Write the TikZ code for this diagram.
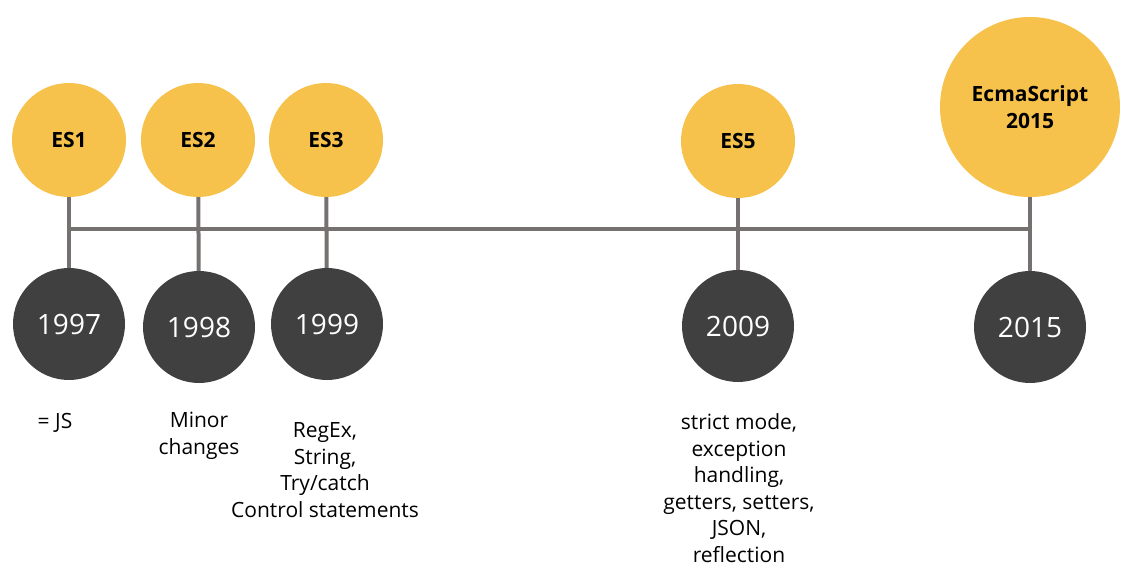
\documentclass[tikz,border=0pt]{standalone}
\usepackage{fontspec}
\setmainfont{Open Sans}
\usetikzlibrary{backgrounds}
\definecolor{esyellow}{HTML}{F6C24B}
\definecolor{yeardark}{HTML}{404040}
\definecolor{linegray}{HTML}{767171}
\begin{document}
\begin{tikzpicture}[x=1pt,y=-1pt,
  esnode/.style={circle,fill=esyellow,inner sep=0pt,minimum size=114pt,font=\fontsize{21}{26.5}\selectfont\bfseries,text=black,align=center},
  yearnode/.style={circle,fill=yeardark,inner sep=0pt,minimum size=112pt,font=\fontsize{28}{30}\selectfont,text=white},
  desc/.style={align=center,inner sep=0pt,font=\fontsize{21}{26.5}\selectfont,text=black},
  link/.style={draw=linegray,line width=4pt}]
\useasboundingbox (0,0) rectangle (1135,580);
% top circles
\node[esnode] (es1) at (69,140) {ES1};
\node[esnode] (es2) at (198,140) {ES2};
\node[esnode] (es3) at (326,140) {ES3};
\node[esnode] (es5) at (738,141) {ES5};
\node[esnode,minimum size=180pt] (es6) at (1030,107) {EcmaScript\\2015};
% year circles
\node[yearnode] (y1997) at (69,324) {1997};
\node[yearnode] (y1998) at (199,327) {1998};
\node[yearnode] (y1999) at (327,324) {1999};
\node[yearnode] (y2009) at (738,326) {2009};
\node[yearnode] (y2015) at (1030,327) {2015};
% timeline ends
\coordinate (tl1) at (69,229);
\coordinate (tl2) at (1030,229);
% connectors under the circles
\begin{scope}[on background layer]
\draw[link] (tl1) -- (tl2);
\draw[link] (es1.center) -- (y1997.center);
\draw[link] (es2.center) -- (y1998.center);
\draw[link] (es3.center) -- (y1999.center);
\draw[link] (es5.center) -- (y2009.center);
\draw[link] (es6.center) -- (y2015.center);
\end{scope}
% descriptions
\node[desc] (d1997) at (55,423) {= JS};
\node[desc] (d1998) at (199,436) {Minor\\changes};
\node[desc] (d1999) at (325,470) {RegEx,\\String,\\Try/catch\\Control statements};
\node[desc] (d2009) at (739,488) {strict mode,\\exception\\handling,\\getters, setters,\\JSON,\\reflection};
\end{tikzpicture}
\end{document}
